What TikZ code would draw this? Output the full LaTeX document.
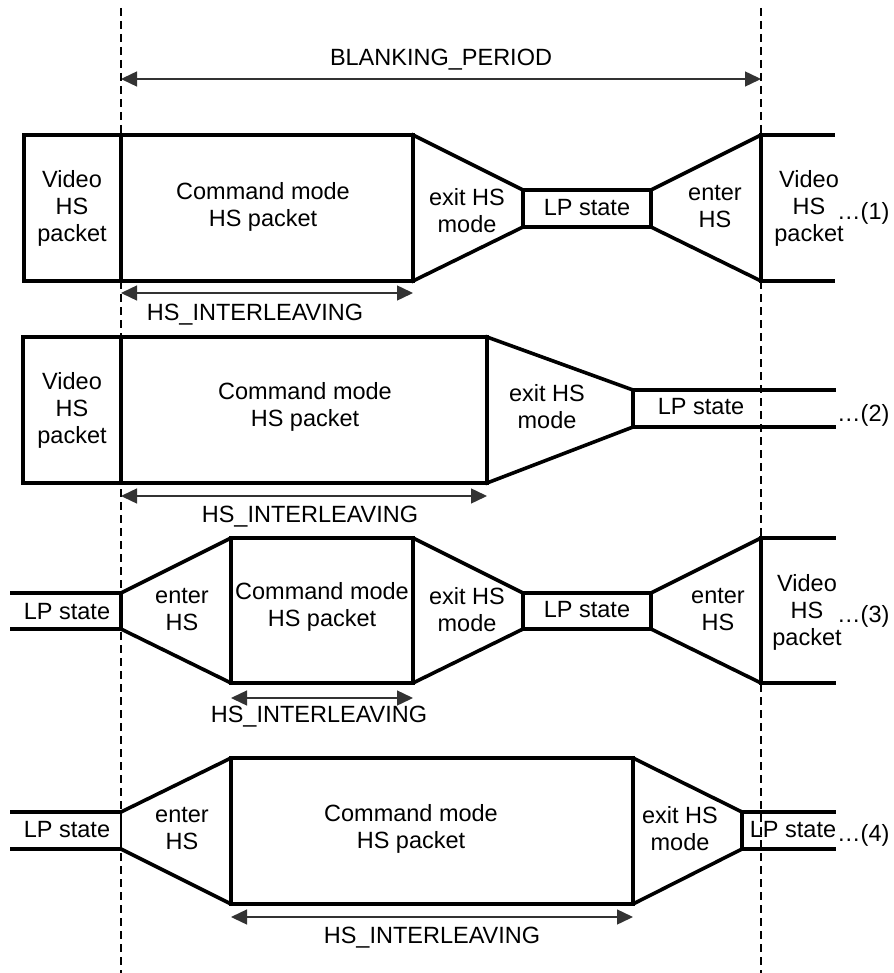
\documentclass[tikz,border=0pt]{standalone}
\usepackage{fontspec}
\setmainfont{Liberation Sans}
\usetikzlibrary{arrows.meta}
\begin{document}
\begin{tikzpicture}[x=1pt,y=-1pt,
  outline/.style={line width=3.6pt, line join=miter, line cap=rect},
  thinedge/.style={line width=2pt},
  lbl/.style={font=\fontsize{23.5}{27}\selectfont, align=center, inner sep=0pt},
  dim/.style={line width=1.4pt, draw=black!80,
    {Triangle[length=16pt,width=15pt]}-{Triangle[length=16pt,width=15pt]}},
  guide/.style={line width=2.3pt, dash pattern=on 8pt off 5pt}]
\useasboundingbox (0,0) rectangle (893,973);

% ---------- Row 1 ----------
\draw[outline] (24,135) rectangle (413,281);
\draw[outline] (121,135) -- (121,281);
\draw[outline] (413,135) -- (523,190) -- (651,190) -- (761,135) -- (833,135);
\draw[outline] (413,281) -- (523,227) -- (651,227) -- (761,281) -- (833,281);
\draw[outline] (523,190) -- (523,227);
\draw[outline] (651,190) -- (651,227);
\draw[outline] (761,135) -- (761,281);
\node[lbl] (v1a) at (72,208) {Video\\HS\\packet};
\node[lbl] (c1) at (263,207) {Command mode\\HS packet};
\node[lbl] (x1) at (467,211) {exit HS\\mode};
\node[lbl] (lp1) at (587,208) {LP state};
\node[lbl] (e1) at (715,207) {enter\\HS};
\node[lbl] (v1b) at (809,208) {Video\\HS\\packet};
\node[lbl, anchor=west] (d1) at (837,213) {…(1)};

% ---------- Row 2 ----------
\draw[outline] (23,337) rectangle (487,483);
\draw[outline] (121,337) -- (121,483);
\draw[outline] (487,337) -- (633,390) -- (834,390);
\draw[outline] (487,483) -- (633,427) -- (834,427);
\draw[outline] (633,390) -- (633,427);
\node[lbl] (v2) at (72,410) {Video\\HS\\packet};
\node[lbl] (c2) at (305,407) {Command mode\\HS packet};
\node[lbl] (x2) at (547,407) {exit HS\\mode};
\node[lbl] (lp2) at (701,407) {LP state};
\node[lbl, anchor=west] (d2) at (837,415) {…(2)};

% ---------- Row 3 ----------
\draw[outline] (12,593) -- (121,593) -- (231,538) -- (413,538) -- (523,593) -- (651,593) -- (761,538) -- (834,538);
\draw[outline] (12,629) -- (121,629) -- (231,683) -- (413,683) -- (523,629) -- (651,629) -- (761,683) -- (834,683);
\draw[outline] (121,593) -- (121,629);
\draw[outline] (231,538) -- (231,683);
\draw[outline] (413,538) -- (413,683);
\draw[outline] (523,593) -- (523,629);
\draw[outline] (651,593) -- (651,629);
\draw[outline] (761,538) -- (761,683);
\node[lbl] (lp3a) at (67,612) {LP state};
\node[lbl] (e3a) at (182,610) {enter\\HS};
\node[lbl] (c3) at (322,607) {Command mode\\HS packet};
\node[lbl] (x3) at (467,610) {exit HS\\mode};
\node[lbl] (lp3b) at (587,610) {LP state};
\node[lbl] (e3b) at (718,610) {enter\\HS};
\node[lbl] (v3) at (807,612) {Video\\HS\\packet};
\node[lbl, anchor=west] (d3) at (837,616) {…(3)};

% ---------- Row 4 ----------
\draw[outline] (12,812) -- (121,812) -- (231,758) -- (633,758) -- (742,812) -- (834,812);
\draw[outline] (12,849) -- (121,849) -- (231,904) -- (633,904) -- (742,849) -- (834,849);
\draw[thinedge] (121,812) -- (121,849);
\draw[outline] (231,758) -- (231,904);
\draw[outline] (633,758) -- (633,904);
\draw[outline] (742,812) -- (742,849);
\node[lbl] (lp4a) at (67,830) {LP state};
\node[lbl] (e4) at (182,829) {enter\\HS};
\node[lbl] (c4) at (411,829) {Command mode\\HS packet};
\node[lbl] (x4) at (680,829) {exit HS\\mode};
\node[lbl] (lp4b) at (793,830) {LP state};
\node[lbl, anchor=west] (d4) at (837,835) {…(4)};

% ---------- dimension arrows ----------
\coordinate (bpL) at (121,79);
\coordinate (bpR) at (761,79);
\draw[dim] (bpL) -- (bpR);
\node[lbl] (bp) at (441,60) {BLANKING\_PERIOD};

\coordinate (i1L) at (121,293);
\coordinate (i1R) at (413,293);
\draw[dim] (i1L) -- (i1R);
\node[lbl] (i1) at (255,315) {HS\_INTERLEAVING};

\coordinate (i2L) at (121,496);
\coordinate (i2R) at (487,496);
\draw[dim] (i2L) -- (i2R);
\node[lbl] (i2) at (310,517) {HS\_INTERLEAVING};

\coordinate (i3L) at (231,698);
\coordinate (i3R) at (413,698);
\draw[dim] (i3L) -- (i3R);
\node[lbl] (i3) at (319,717) {HS\_INTERLEAVING};

\coordinate (i4L) at (231,917);
\coordinate (i4R) at (633,917);
\draw[dim] (i4L) -- (i4R);
\node[lbl] (i4) at (432,938) {HS\_INTERLEAVING};

% ---------- guide lines ----------
\coordinate (gLt) at (121,8);
\coordinate (gLb) at (121,973);
\coordinate (gRt) at (761,8);
\coordinate (gRb) at (761,973);
\draw[guide] (gLt) -- (gLb);
\draw[guide] (gRt) -- (gRb);
\end{tikzpicture}
\end{document}
